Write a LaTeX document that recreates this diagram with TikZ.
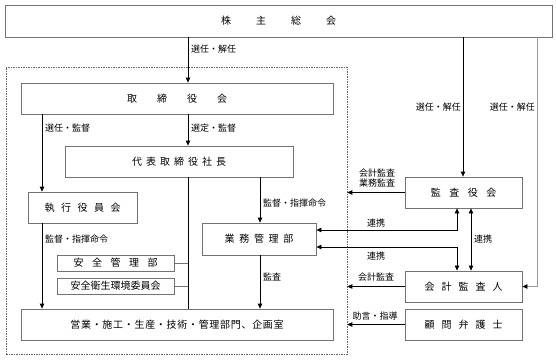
\documentclass[tikz,border=0pt]{standalone}
\usepackage{fontspec}
\setmainfont{Noto Sans CJK JP}
\usetikzlibrary{arrows.meta}
\makeatletter
\newcommand\spread[2]{\def\sp@gap{#1}\sp@first#2\sp@end}
\def\sp@end{\sp@end}
\def\sp@first#1{#1\sp@loop}
\def\sp@loop#1{\ifx#1\sp@end\else\hspace{\sp@gap}#1\expandafter\sp@loop\fi}
\makeatother
\begin{document}
\begin{tikzpicture}[x=1pt,y=-1pt,
  box/.style={draw=black!55, line width=0.8pt, minimum height=31pt, inner sep=0pt,
    font=\fontsize{10}{12}\selectfont},
  smallbox/.style={box, minimum height=16pt},
  lbl/.style={font=\fontsize{9}{10.5}\selectfont, inner sep=0pt},
  arr/.style={-{Triangle[length=5pt,width=4.5pt]}, line width=0.8pt},
  darr/.style={{Triangle[length=5pt,width=4.5pt]}-{Triangle[length=5pt,width=4.5pt]}, line width=0.8pt},
  ln/.style={line width=0.8pt},
  zone/.style={draw=black!60, line width=0.6pt, dash pattern=on 1.5pt off 1pt, inner sep=0pt}]
\useasboundingbox (0,0) rectangle (556,362);

% outer dashed zone
\node[zone, minimum width=341pt, minimum height=287pt] (inner) at (176.5,210.5) {};

% boxes
\node[box, minimum width=547pt, minimum height=32pt] (kabu) at (278.5,21) {\spread{25pt}{株主総会}};
\node[box, minimum width=312pt] (tori) at (177,98.5) {\spread{20pt}{取締役会}};
\node[box, minimum width=228pt] (daihyo) at (179,161.5) {\spread{4pt}{代表取締役社長}};
\node[box, minimum width=109pt] (shikko) at (82.5,207.5) {\spread{6.5pt}{執行役員会}};
\node[box, minimum width=114pt, minimum height=32pt] (gyomu) at (259,239) {\spread{4.7pt}{業務管理部}};
\node[smallbox, minimum width=117pt] (anzen) at (115.5,263) {\spread{8.5pt}{安全管理部}};
\node[smallbox, minimum width=117pt] (eisei) at (115.5,286) {安全衛生環境委員会};
\node[box, minimum width=312pt] (eigyo) at (177,324.5) {\spread{0.7pt}{営業・施工・生産・技術・管理部門、企画室}};
\node[box, minimum width=117pt] (kansa) at (463.5,192.5) {\spread{8.5pt}{監査役会}};
\node[box, minimum width=117pt] (kaikei) at (463.5,286.5) {\spread{7pt}{会計監査人}};
\node[box, minimum width=117pt] (komon) at (463.5,324.5) {\spread{7pt}{顧問弁護士}};

% columns / rows
\coordinate (x42) at (42,0);
\coordinate (x188) at (188,0);
\coordinate (x260) at (260,0);
\coordinate (x457) at (457,0);
\coordinate (x463) at (463,0);
\coordinate (x471) at (471,0);
\coordinate (x537) at (537,0);
\coordinate (y230) at (0,230);
\coordinate (y247) at (0,247);

% connectors
\draw[arr] (kabu.south -| x188) -- (tori.north -| x188);
\draw[arr] (tori.south -| x42) -- (shikko.north -| x42);
\draw[arr] (tori.south -| x188) -- (daihyo.north -| x188);
\draw[ln] (daihyo.south -| x188) -- (eigyo.north -| x188);
\draw[ln, draw=black!55] (anzen.east) -- (anzen.east -| x188);
\draw[ln, draw=black!55] (eisei.east) -- (eisei.east -| x188);
\draw[arr] (daihyo.south -| x260) -- (gyomu.north -| x260);
\draw[arr] (shikko.south -| x42) -- (eigyo.north -| x42);
\draw[arr] (gyomu.south -| x260) -- (eigyo.north -| x260);
\draw[arr] (kabu.south -| x463) -- (kansa.north -| x463);
\draw[-{Triangle[length=5pt,width=4.5pt,color=black]}, line width=0.8pt, draw=black!40]
  (kabu.south -| x537) |- (kaikei.east);
\draw[arr] (kansa.west) -- (kansa.west -| inner.east);
\draw[arr] (kaikei.west) -- (kaikei.west -| inner.east);
\draw[arr] (komon.west) -- (komon.west -| inner.east);
\draw[darr] (gyomu.east |- y230) -| (kansa.south -| x457);
\draw[darr] (gyomu.east |- y247) -| (kaikei.north -| x457);
\draw[darr] (kansa.south -| x471) -- (kaikei.north -| x471);

% labels
\node[lbl, anchor=west] (l1) at (191,49) {選任・解任};
\node[lbl, anchor=west] (l2) at (45,128) {選任・監督};
\node[lbl, anchor=west] (l3) at (191,128) {選定・監督};
\node[lbl, anchor=west] (l4) at (263,203) {監督・指揮命令};
\node[lbl, anchor=west] (l5) at (45,239) {監督・指揮命令};
\node[lbl, anchor=west] (l6) at (263,277) {監査};
\node[lbl, anchor=east] (l7) at (461,107) {選任・解任};
\node[lbl, anchor=east] (l8) at (535,107) {選任・解任};
\node[lbl, align=center] (l9) at (377,178) {会計監査\\業務監査};
\node[lbl] (l10) at (376,223) {連携};
\node[lbl] (l11) at (376,256) {連携};
\node[lbl, anchor=west] (l12) at (474,239) {連携};
\node[lbl] (l13) at (376,277) {会計監査};
\node[lbl] (l14) at (375,316) {助言・指導};
\end{tikzpicture}
\end{document}
